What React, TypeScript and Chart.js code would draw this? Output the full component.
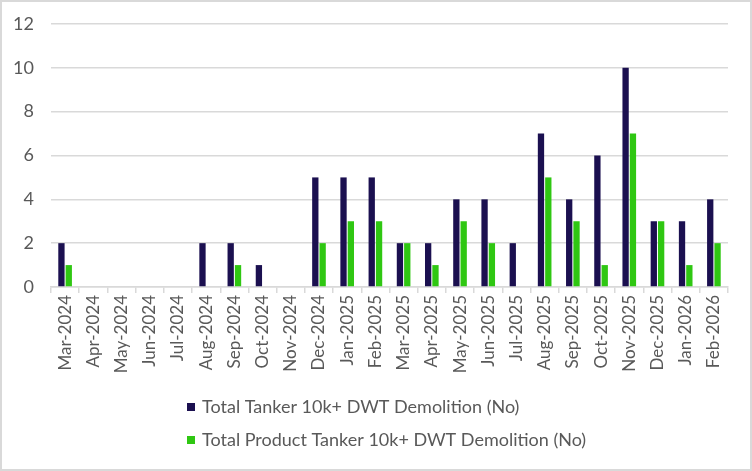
import React, { useEffect, useRef } from "react";
import { Chart, registerables } from "chart.js";

Chart.register(...registerables);

const months = [
  "Mar-2024", "Apr-2024", "May-2024", "Jun-2024", "Jul-2024", "Aug-2024",
  "Sep-2024", "Oct-2024", "Nov-2024", "Dec-2024", "Jan-2025", "Feb-2025",
  "Mar-2025", "Apr-2025", "May-2025", "Jun-2025", "Jul-2025", "Aug-2025",
  "Sep-2025", "Oct-2025", "Nov-2025", "Dec-2025", "Jan-2026", "Feb-2026",
];
const totalTanker = [2, 0, 0, 0, 0, 2, 2, 1, 0, 5, 5, 5, 2, 2, 4, 4, 2, 7, 4, 6, 10, 3, 3, 4];
const productTanker = [1, 0, 0, 0, 0, 0, 1, 0, 0, 2, 3, 3, 2, 1, 3, 2, 0, 5, 3, 1, 7, 3, 1, 2];
const seriesNames = [
  "Total Tanker 10k+ DWT Demolition (No)",
  "Total Product Tanker 10k+ DWT Demolition (No)",
];
const yTicks = [0, 2, 4, 6, 8, 10, 12];

const NAVY = "#1B1050";
const GREEN = "#2FC712";
const TEXT = "#595959";
const GRID = "#D9D9D9";
const FONT = "Lato, 'Open Sans', sans-serif";

const frameAndLegend = {
  id: "frameAndLegend",
  afterDraw(chart: any) {
    const ctx = chart.ctx;
    ctx.save();
    ctx.strokeStyle = GRID;
    ctx.lineWidth = 2;
    ctx.strokeRect(1, 1, chart.width - 2, chart.height - 2);
    ctx.font = `18px ${FONT}`;
    ctx.textBaseline = "middle";
    ctx.textAlign = "left";
    const rows = [407, 440];
    chart.data.datasets.forEach((ds: any, i: number) => {
      const y = rows[i];
      ctx.fillStyle = ds.backgroundColor;
      ctx.fillRect(187, y - 4, 8, 8);
      ctx.fillStyle = TEXT;
      ctx.fillText(ds.label, 202, y);
    });
    ctx.restore();
  },
};

export default function App() {
  const ref = useRef<HTMLCanvasElement | null>(null);
  useEffect(() => {
    document.body.style.margin = "0";
    const chart = new Chart(ref.current as HTMLCanvasElement, {
      type: "bar",
      data: {
        labels: months,
        datasets: [
          {
            label: seriesNames[0],
            data: totalTanker,
            backgroundColor: NAVY,
            categoryPercentage: 0.52,
            barPercentage: 0.86,
          },
          {
            label: seriesNames[1],
            data: productTanker,
            backgroundColor: GREEN,
            categoryPercentage: 0.52,
            barPercentage: 0.86,
          },
        ],
      },
      options: {
        responsive: false,
        animation: false,
        layout: { padding: { top: 24, right: 24, left: 0, bottom: 0 } },
        plugins: {
          legend: { display: false },
          tooltip: { enabled: false },
        },
        scales: {
          x: {
            grid: {
              display: true,
              drawOnChartArea: false,
              drawTicks: true,
              tickLength: 6,
              color: GRID,
              lineWidth: 1.5,
            },
            border: { display: true, color: GRID, width: 1.5 },
            ticks: {
              minRotation: 90,
              maxRotation: 90,
              autoSkip: false,
              padding: 2,
              color: TEXT,
              font: { family: FONT, size: 17 },
            },
            afterFit: (scale: any) => {
              scale.height = 184;
            },
          },
          y: {
            min: 0,
            max: 12,
            afterBuildTicks: (scale: any) => {
              scale.ticks = yTicks.map((v) => ({ value: v }));
            },
            grid: {
              color: GRID,
              lineWidth: 1.5,
              drawTicks: true,
              tickLength: 17,
              tickColor: "rgba(0,0,0,0)",
            },
            border: { display: false },
            ticks: {
              padding: 0,
              color: TEXT,
              font: { family: FONT, size: 18 },
            },
            afterFit: (scale: any) => {
              scale.width = 51;
            },
          },
        },
      },
      plugins: [frameAndLegend],
    });
    return () => chart.destroy();
  }, []);
  return (
    <div style={{ position: "absolute", left: 0, top: 0, width: 752, height: 471 }}>
      <canvas ref={ref} width={752} height={471} style={{ width: 752, height: 471 }} />
    </div>
  );
}
